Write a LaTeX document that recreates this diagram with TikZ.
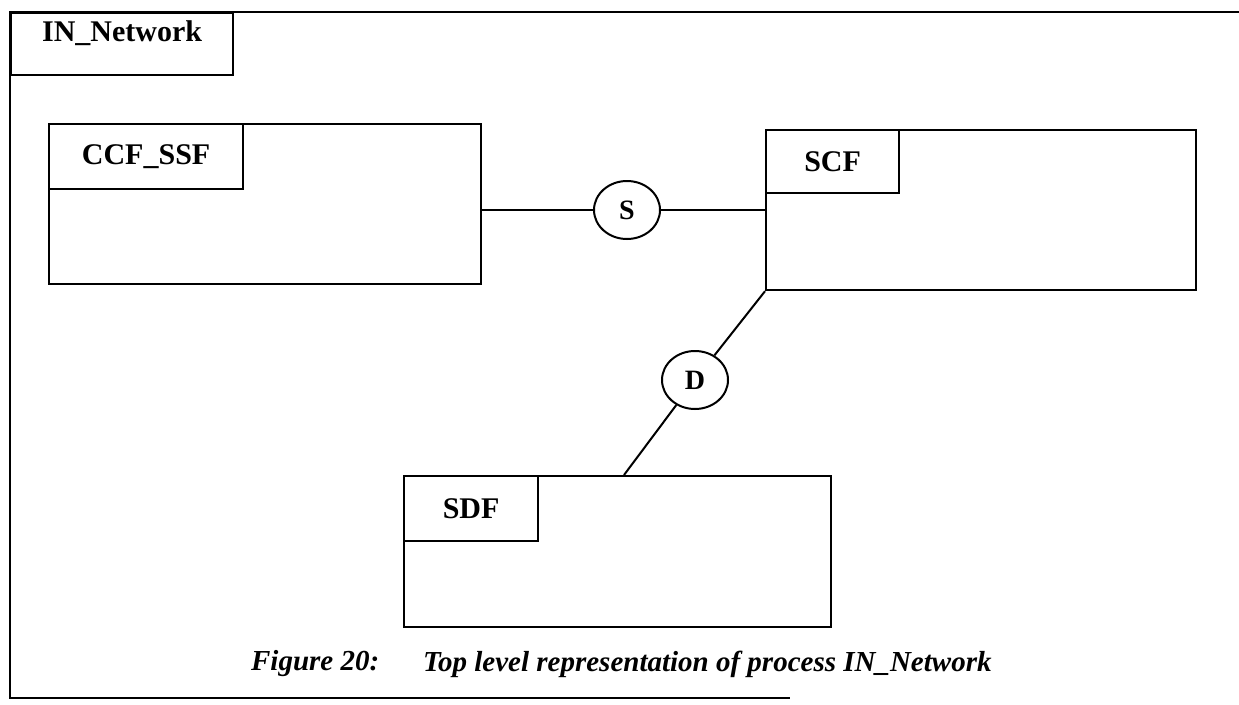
\documentclass[tikz,border=0pt]{standalone}
\usepackage{fontspec}
\setmainfont{Liberation Serif}
\usepackage{tikz}
\usetikzlibrary{positioning,shapes.geometric,calc}
\tikzset{>=stealth}

\begin{document}
\begin{tikzpicture}[x=1pt, y=-1pt, line width=2.2pt,
		every node/.style={font=\fontsize{30}{36}\selectfont\bfseries},
		block/.style={draw, rectangle, anchor=north west, inner sep=0pt},
		chan/.style={draw, ellipse, line width=2pt, minimum width=66pt, minimum height=58pt, inner sep=0pt, font=\fontsize{28}{32}\selectfont\bfseries},
		capt/.style={anchor=west, inner sep=0pt, font=\fontsize{29}{34}\selectfont\bfseries\itshape}]
			\useasboundingbox (0,0) rectangle (1239,704);
			
			% Process frame and its name
			\draw[line width=2.6pt] (1239,12) -- (10,12) -- (10,698) -- (790,698);
			\node[block, minimum width=222pt, minimum height=62pt] (netTab) at (10,12) {};
			\node[anchor=north, inner sep=0pt] (netName) at ([yshift=-8pt]netTab.north) {IN\_Network};
			
			% Blocks
			\node[block, minimum width=432pt, minimum height=160pt] (ccf) at (48,123) {};
			\node[block, minimum width=194pt, minimum height=65pt] (ccfTab) at (48,123) {CCF\_SSF};
			\node[block, minimum width=430pt, minimum height=160pt] (scf) at (765,129) {};
			\node[block, minimum width=133pt, minimum height=63pt] (scfTab) at (765,129) {SCF};
			\node[block, minimum width=427pt, minimum height=151pt] (sdf) at (403,475) {};
			\node[block, minimum width=134pt, minimum height=65pt] (sdfTab) at (403,475) {SDF};
			
			% Channels
			\node[chan] (chS) at (627,210) {S};
			\node[chan] (chD) at (695,380) {D};
			\coordinate (dEnd) at ([xshift=221pt]sdf.north west);
			\draw (ccf.east |- chS) -- (chS);
			\draw (chS) -- (scf.west |- chS);
			\draw[line width=2pt] (scf.south west) -- (chD);
			\draw[line width=2pt] (chD) -- (dEnd);
			
			% Caption
			\node[capt] (figNum) at (250,664) {Figure 20:};
			\node[capt] (figText) at (422,664) {Top level representation of process IN\_Network};
		\end{tikzpicture}
\end{document}
